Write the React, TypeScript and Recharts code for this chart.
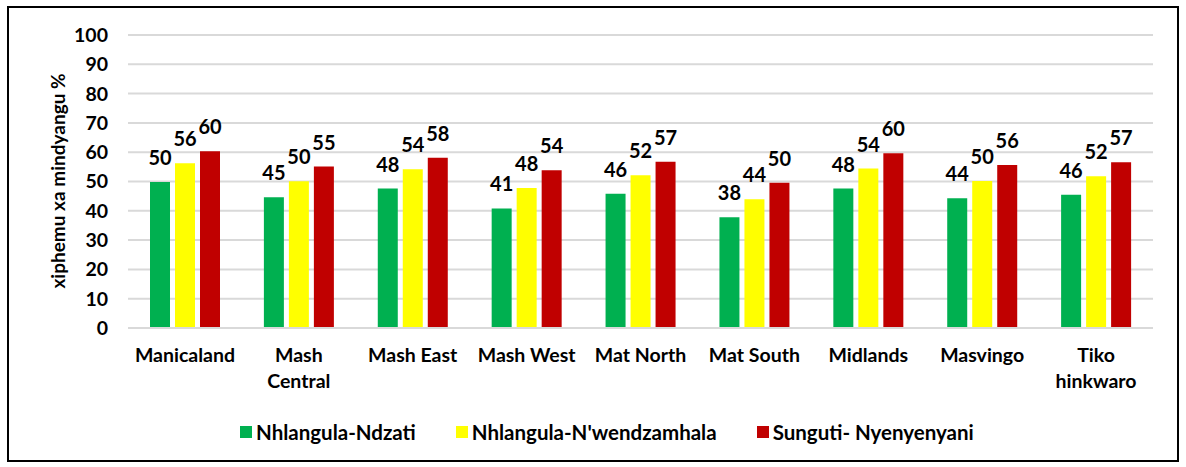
import { BarChart, Bar, XAxis, YAxis, CartesianGrid, Legend, LabelList, Label } from 'recharts';

const categories = ['Manicaland', 'Mash\nCentral', 'Mash East', 'Mash West', 'Mat North', 'Mat South', 'Midlands', 'Masvingo', 'Tiko\nhinkwaro'];
const ndzati = [49.8, 44.6, 47.6, 40.8, 45.8, 37.8, 47.6, 44.3, 45.5];
const nwendzamhala = [56.2, 50.1, 54.2, 47.8, 52.1, 43.9, 54.4, 50.2, 51.8];
const nyenyenyani = [60.3, 55.1, 58.1, 53.8, 56.7, 49.6, 59.6, 55.6, 56.6];
const yTicks = [0, 10, 20, 30, 40, 50, 60, 70, 80, 90, 100];

const series = [
  { key: 'ndzati', name: 'Nhlangula-Ndzati', color: '#00B050' },
  { key: 'nwendzamhala', name: "Nhlangula-N'wendzamhala", color: '#FFFF00' },
  { key: 'nyenyenyani', name: 'Sunguti- Nyenyenyani', color: '#C00000' },
];

const data = categories.map((c, i) => ({
  name: c,
  ndzati: ndzati[i],
  nwendzamhala: nwendzamhala[i],
  nyenyenyani: nyenyenyani[i],
}));

const FONT = 'Lato, "Open Sans", sans-serif';

function CategoryTick({ x, y, payload }: any) {
  const lines = String(payload.value).split('\n');
  return (
    <text x={x} y={y} textAnchor="middle" fontFamily={FONT} fontWeight={700} fontSize={19.5} fill="#000">
      {lines.map((l, i) => (
        <tspan key={i} x={x} dy={i === 0 ? 26 : 26}>{l}</tspan>
      ))}
    </text>
  );
}

function LegendContent() {
  return (
    <div style={{ display: 'flex', alignItems: 'center', fontFamily: FONT, fontWeight: 700, fontSize: 20.5, color: '#000' }}>
      {series.map((s) => (
        <div key={s.key} style={{ display: 'flex', alignItems: 'center', marginRight: 40 }}>
          <span style={{ width: 12, height: 12, background: s.color, display: 'inline-block', marginRight: 4 }} />
          <span>{s.name}</span>
        </div>
      ))}
    </div>
  );
}

export default function App() {
  return (
    <div style={{ position: 'absolute', left: 0, top: 0, width: 1186, height: 467, background: '#fff' }}>
      <div style={{ position: 'absolute', left: 7, top: 6, width: 1168, height: 452, border: '2px solid #000' }} />
      <BarChart
        width={1186}
        height={467}
        data={data}
        margin={{ top: 35, right: 33, left: 0, bottom: 79 }}
        barGap={5}
      >
        <CartesianGrid vertical={false} stroke="#d9d9d9" strokeWidth={2} />
        <XAxis
          dataKey="name"
          axisLine={{ stroke: '#d9d9d9', strokeWidth: 2 }}
          tickLine={false}
          tick={<CategoryTick />}
          height={60}
          interval={0}
        />
        <YAxis
          width={128}
          domain={[0, 100]}
          ticks={yTicks}
          axisLine={false}
          tickLine={false}
          tickMargin={14}
          tick={{ fontFamily: FONT, fontWeight: 700, fontSize: 19.5, fill: '#000' }}
        >
          <Label
            content={() => (
              <text
                x={57}
                y={181}
                transform="rotate(-90, 57, 181)"
                textAnchor="middle"
                dominantBaseline="central"
                fontFamily={FONT}
                fontWeight={700}
                fontSize={19}
                fill="#000"
              >
                xiphemu xa mindyangu %
              </text>
            )}
          />
        </YAxis>
        <Legend
          verticalAlign="middle"
          align="center"
          layout="horizontal"
          content={<LegendContent />}
          wrapperStyle={{ top: 420, left: 240, width: 'auto' }}
        />
        {series.map((s) => (
          <Bar key={s.key} dataKey={s.key} name={s.name} fill={s.color} barSize={20} isAnimationActive={false}>
            <LabelList
              dataKey={s.key}
              position="top"
              offset={17}
              formatter={(v: any) => Math.round(Number(v))}
              style={{ fontFamily: FONT, fontWeight: 700, fontSize: 20, fill: '#000' }}
            />
          </Bar>
        ))}
      </BarChart>
    </div>
  );
}
